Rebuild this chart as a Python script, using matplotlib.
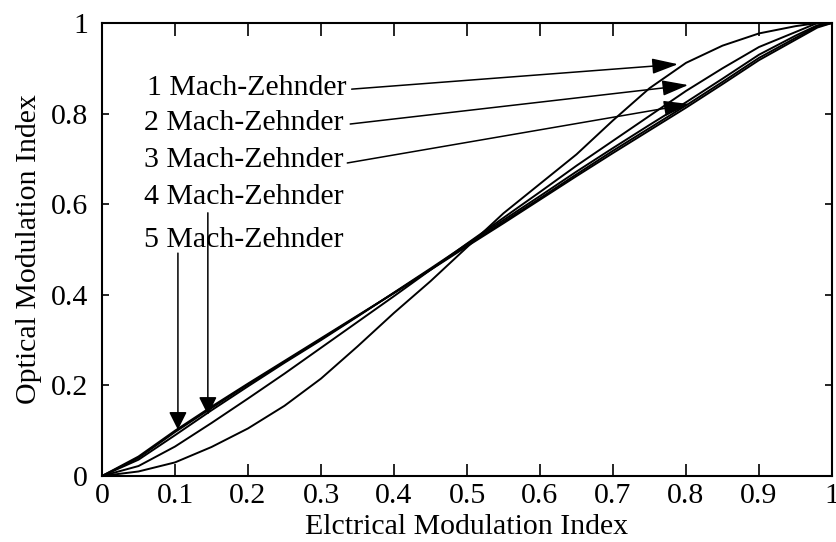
#!/usr/bin/env python

import numpy as np
import matplotlib
matplotlib.use('Agg')
import matplotlib.pyplot as plt

################################################################################

x_elec = [0, .05, .1, .15, .2, .25, .3, .35, .4, .45, .5,
  .55, .6, .65, .7, .75, .8, .85, .9, .95, .98, 1]

# optical modulation index for cascades of 1..5 Mach-Zehnder modulators
m_opt_1 = [0, .010, .030, .064, .105, .155, .215, .286, .360, .430, .505,
  .580, .645, .710, .785, .856, .912, .950, .977, .993, 1, 1]
m_opt_2 = [0, .022, .065, .117, .171, .226, .283, .340, .397, .455, .513,
  .570, .627, .685, .740, .795, .850, .900, .947, .980, 1, 1]
m_opt_3 = [0, .036, .090, .145, .198, .250, .300, .352, .405, .458, .512,
  .565, .618, .672, .724, .775, .825, .877, .930, .972, .995, 1]
m_opt_4 = [0, .040, .097, .150, .202, .252, .302, .353, .404, .456, .509,
  .561, .613, .666, .718, .768, .818, .870, .923, .967, .993, 1]
m_opt_5 = [0, .043, .100, .153, .204, .254, .304, .354, .404, .455, .507,
  .558, .610, .662, .713, .763, .813, .865, .918, .963, .990, 1]

labels = ['1 Mach-Zehnder', '2 Mach-Zehnder', '3 Mach-Zehnder',
  '4 Mach-Zehnder', '5 Mach-Zehnder']

x_ticks = [0, .1, .2, .3, .4, .5, .6, .7, .8, .9, 1]
y_ticks = [0, .2, .4, .6, .8, 1]

################################################################################

plt.rcParams['font.family'] = ['Liberation Serif', 'DejaVu Serif']

fs = 21.5

fig = plt.figure(figsize=(8.36, 5.42), dpi=100)
ax = fig.add_axes([102/836, 66/542, 730/836, 453/542])

for y in [m_opt_1, m_opt_2, m_opt_3, m_opt_4, m_opt_5]:
  ax.plot(x_elec, y, c='black', lw=1.4)

ax.set_xlim(0, 1)
ax.set_ylim(0, 1)
ax.set_xticks(x_ticks)
ax.set_yticks(y_ticks)
ax.set_xticklabels([f'{t:g}' for t in x_ticks])
ax.set_yticklabels([f'{t:g}' for t in y_ticks])
ax.tick_params(axis='both', direction='in', top=True, right=True,
  labelsize=fs, width=1.2)
ax.tick_params(axis='x', length=9, pad=5)
ax.tick_params(axis='y', length=5, pad=10)
for s in ax.spines.values():
  s.set_linewidth(1.5)

ax.set_xlabel('Elctrical Modulation Index', fontsize=fs, labelpad=4)
ax.set_ylabel('Optical Modulation Index', fontsize=fs, labelpad=6)

# labels and arrows
label_x = [.062, .058, .058, .058, .058]
label_y = [.857, .779, .698, .616, .521]
for lx, ly, txt in zip(label_x, label_y, labels):
  ax.text(lx, ly, txt, fontsize=fs, ha='left', va='center')

side_style = dict(arrowstyle='-|>,head_length=1.6,head_width=0.48',
  color='black', lw=1.1, shrinkA=0, shrinkB=0)
down_style = dict(arrowstyle='-|>,head_length=1.1,head_width=0.55',
  color='black', lw=1.1, shrinkA=0, shrinkB=0)
tails = [(.342, .854), (.340, .777), (.336, .691), (.145, .581), (.104, .492)]
tips = [(.789, .909), (.803, .863), (.805, .821), (.145, .135), (.104, .102)]
for i, (tail, tip) in enumerate(zip(tails, tips)):
  style = side_style if i < 3 else down_style
  ax.annotate('', xy=tip, xytext=tail, arrowprops=style)

fig.savefig('out.png', dpi=100)
